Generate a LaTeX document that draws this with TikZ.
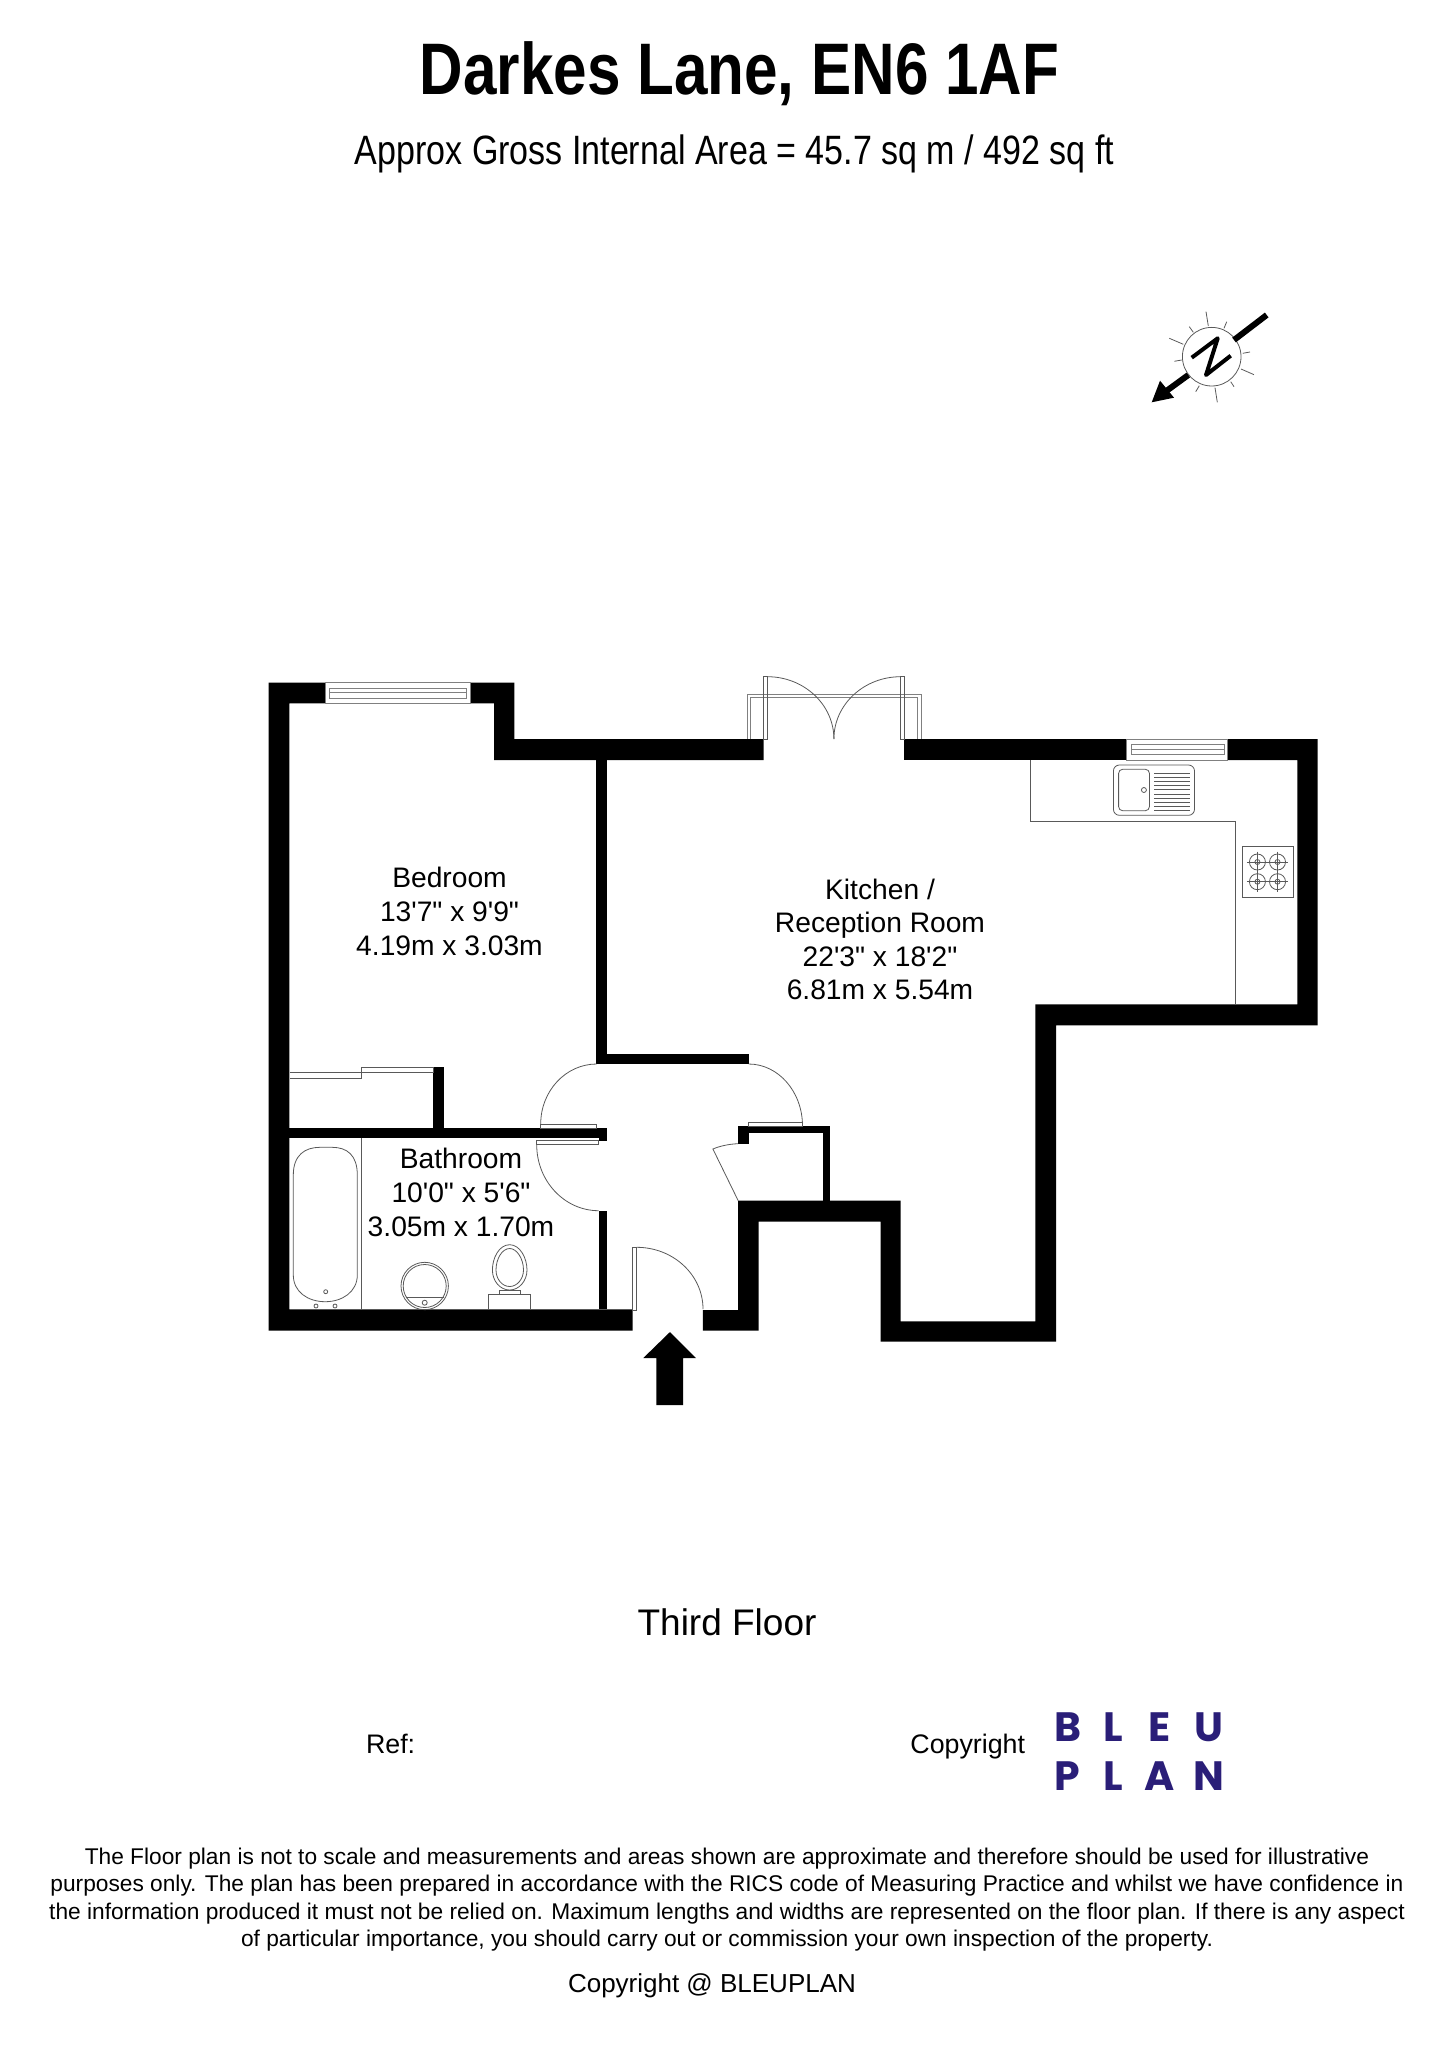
\documentclass[tikz,border=0pt]{standalone}
\usepackage{fontspec}
\setmainfont{Liberation Sans}
\newfontfamily\titlefont[FakeStretch=0.825]{Liberation Sans}
\newfontfamily\subtitlefont[FakeStretch=0.83]{Liberation Sans}
\newfontfamily\roomfont{Liberation Sans}
\newfontfamily\logofont{Poppins}
\usetikzlibrary{positioning}
\definecolor{bleunavy}{HTML}{2A1E78}
\tikzstyle{wall}=[
	fill=black,
	draw=none
]
\tikzstyle{fitting}=[
	draw=black!65,
	line width=0.4pt
]
\tikzstyle{glazing}=[
	draw=black!50,
	line width=0.4pt
]
\tikzstyle{roomlabel}=[
	align=center,
	inner sep=0pt,
	font=\roomfont\fontsize{14.1}{16.8}\selectfont
]
\tikzstyle{footer}=[
	inner sep=0pt,
	font=\fontsize{13.4}{16}\selectfont
]
\tikzstyle{logoletter}=[
	inner sep=0pt,
	text=bleunavy,
	font=\logofont\bfseries\fontsize{20.5}{20}\selectfont
]

\begin{document}
\begin{tikzpicture}[x=0.5pt,y=-0.5pt]
\useasboundingbox (0,0) rectangle (1448,2048);
\node (Title) [inner sep=0pt, font=\titlefont\bfseries\fontsize{36.5}{40}\selectfont] at (739.5,74) {Darkes Lane, EN6 1AF};
\node (Subtitle) [inner sep=0pt, below=14pt of Title, xshift=-2.5pt, font=\subtitlefont\fontsize{20.5}{24}\selectfont] {Approx Gross Internal Area = 45.7 sq m / 492 sq ft};

\fill [wall] (325.4,682.7) -- (268.6,682.7) -- (268.6,1330.7) -- (632.7,1330.7) -- (632.7,1309.3) -- (289.3,1309.3) -- (289.3,703.3) -- (325.4,703.3) -- cycle;
\fill [wall] (470.7,682.7) -- (514.3,682.7) -- (514.3,739) -- (763.6,739) -- (763.6,760) -- (494,760) -- (494,703.3) -- (470.7,703.3) -- cycle;
\fill [wall] (596.4,760) rectangle (607,1064);
\fill [wall] (596.4,1053.5) rectangle (748.6,1064);
\fill [wall] (904.3,739) rectangle (1126.5,760);
\fill [wall] (1227,739) -- (1317.5,739) -- (1317.5,1025.3) -- (1056,1025.3) -- (1056,1341.7) -- (880.7,1341.7) -- (880.7,1221.7) -- (758.6,1221.7) -- (758.6,1330.7) -- (702.9,1330.7) -- (702.9,1310) -- (738.2,1310) -- (738.2,1200.7) -- (900.7,1200.7) -- (900.7,1321.3) -- (1035.4,1321.3) -- (1035.4,1004.3) -- (1297.3,1004.3) -- (1297.3,760) -- (1227,760) -- cycle;
\fill [wall] (289.3,1128) rectangle (607,1138);
\fill [wall] (598.7,1128) rectangle (607,1140.7);
\fill [wall] (598.7,1210.7) rectangle (607,1309.3);
\fill [wall] (433.3,1067.3) rectangle (444,1128);
\fill [wall] (738.2,1126) rectangle (829.6,1133.3);
\fill [wall] (738.2,1126) rectangle (748.6,1143.7);
\fill [wall] (822.9,1126) rectangle (829.6,1200.7);

\draw [glazing] (325.4,682.7) rectangle (470.7,703.3);
\draw [glazing] (329.6,688.3) rectangle (466.4,698);
\draw [glazing] (329.6,692.7) -- (466.4,692.7);
\draw [glazing] (1126.5,739) rectangle (1227,760);
\draw [glazing] (1131.2,744) rectangle (1224,754);
\draw [glazing] (1131.2,749) -- (1224,749);

\draw [glazing] (747.7,739) -- (747.7,694) -- (920.9,694) -- (920.9,739);
\draw [glazing] (750.8,739) -- (750.8,697.3) -- (917.7,697.3) -- (917.7,739);
\draw [fitting] (763.5,739) -- (767.4,739) -- (767.4,676.7) -- (763.5,676.7) -- cycle;
\draw [fitting] (900.7,739) -- (904.3,739) -- (904.3,676.7) -- (900.7,676.7) -- cycle;
\draw [fitting] (767.4,676.7) .. controls (804,676.7) and (833.9,704.6) .. (833.9,739);
\draw [fitting] (900.7,676.7) .. controls (863.8,676.7) and (833.9,704.6) .. (833.9,739);

\draw [fitting] (289.7,1072.3) -- (361.3,1072.3) -- (361.3,1067.7) -- (433.3,1067.7) -- (433.3,1072.3) -- (361.3,1072.3) -- (361.3,1078) -- (289.7,1078);
\draw [fitting] (540.7,1124) rectangle (596.7,1128);
\draw [fitting] (596.7,1064) .. controls (565.8,1064) and (540.7,1090.9) .. (540.7,1124);
\draw [fitting] (536.7,1140.3) rectangle (598.7,1144.7);
\draw [fitting] (536.7,1144.7) .. controls (536.7,1181.1) and (564.5,1210.7) .. (598.7,1210.7);
\draw [fitting] (748.2,1122.3) rectangle (802.5,1126);
\draw [fitting] (748.6,1064) .. controls (778.4,1064) and (802.5,1091.8) .. (802.5,1126);
\draw [fitting] (738.2,1143.7) .. controls (729,1144) and (720,1146) .. (712.9,1149) -- (738.2,1200.7);
\draw [fitting] (632.7,1247.3) rectangle (636.7,1310.7);
\draw [fitting] (636.7,1247.3) .. controls (673.3,1247.3) and (703,1275) .. (703,1309);

\draw [fitting] (1030.4,760) -- (1030.4,821.3) -- (1235.2,821.3) -- (1235.2,1004.3);
\draw [fitting, rounded corners=3pt] (1113.4,765) rectangle (1194.5,815.3);
\draw [fitting, rounded corners=2pt] (1118.6,769.3) rectangle (1149.4,810.7);
\draw [fitting] (1143.9,790) circle [radius=2.5];
\foreach \rowy in {773,777.2,781.4,785.6,789.8,794,798.2,802.4,806.6,810}
	\draw [fitting] (1154,\rowy) -- (1189.7,\rowy);
\draw [fitting] (1242.3,846.3) rectangle (1293.3,897.3);
\foreach \ringx in {1257.4,1277.5}
	\foreach \ringy in {862,881.7} {
		\draw [fitting] (\ringx,\ringy) circle [radius=8];
		\draw [fitting] (\ringx,\ringy) circle [radius=2.5];
		\draw [fitting] (\ringx-10.5,\ringy) -- (\ringx+10.5,\ringy);
		\draw [fitting] (\ringx,\ringy-10.5) -- (\ringx,\ringy+10.5);
	}

\draw [fitting] (361.7,1138) -- (361.7,1309.3);
\draw [fitting] (293.3,1175) .. controls (293.3,1155) and (305,1147.3) .. (320,1147.3) -- (332,1147.3) .. controls (347,1147.3) and (357.3,1155) .. (357.3,1175) -- (357.3,1275) .. controls (357.3,1292) and (342,1301.7) .. (325.3,1301.7) .. controls (308,1301.7) and (293.3,1292) .. (293.3,1275) -- cycle;
\draw [fitting] (325.7,1291.7) circle [radius=2];
\draw [fitting] (316,1306) circle [radius=2];
\draw [fitting] (335,1306) circle [radius=2];
\draw [fitting] (424.7,1286) circle [radius=23.7];
\draw [fitting] (424.7,1286) circle [radius=21.5];
\draw [fitting] (405.5,1297.3) -- (443.9,1297.3);
\draw [fitting] (424.7,1302.7) circle [radius=2.5];
\draw [fitting] (488.7,1309.3) -- (488.7,1294.7) -- (530.3,1294.7) -- (530.3,1309.3);
\draw [fitting] (499.3,1294.7) -- (499.3,1290) -- (520,1290) -- (520,1294.7);
\draw [fitting] (509.7,1244.7) .. controls (520,1244.7) and (527,1258) .. (527,1270) .. controls (527,1281) and (519,1290) .. (509.7,1290) .. controls (500,1290) and (492.4,1281) .. (492.4,1270) .. controls (492.4,1258) and (499,1244.7) .. (509.7,1244.7) -- cycle;
\draw [fitting] (509.7,1248.5) .. controls (517,1248.5) and (523.5,1259) .. (523.5,1270) .. controls (523.5,1279) and (517,1286.5) .. (509.7,1286.5) .. controls (502,1286.5) and (496,1279) .. (496,1270) .. controls (496,1259) and (502,1248.5) .. (509.7,1248.5) -- cycle;

\fill [wall] (670,1332) -- (696,1358) -- (683,1358) -- (683,1405) -- (656.3,1405) -- (656.3,1358) -- (643.3,1358) -- cycle;

\node (Bedroom) [roomlabel] at (449.5,911.5) {Bedroom\\13'7" x 9'9"\\4.19m x 3.03m};
\node (Kitchen) [roomlabel] at (880,939.5) {Kitchen /\\Reception Room\\22'3" x 18'2"\\6.81m x 5.54m};
\node (Bathroom) [roomlabel] at (461,1192.5) {Bathroom\\10'0" x 5'6"\\3.05m x 1.70m};

\draw [fitting] (1211.7,356.7) circle [radius=29.3];
\draw [line width=3pt] (1266.7,315) -- (1234,340);
\draw [line width=3pt] (1188.3,375) -- (1165,392);
\fill [wall] (1151.7,402.3) -- (1160,380.7) -- (1174,397.7) -- cycle;
\draw [line width=2pt, line join=round] (1191.7,357.7) -- (1217.7,338.3) -- (1206,375) -- (1230.7,355.7);
\foreach \rayax/\rayay/\raybx/\rayby in {1206/311.7/1208.3/326,1189.3/326.7/1193.3/332.3,1169.3/338.3/1183.3/344.3,1174.3/361.3/1181.7/360,1195.7/391.7/1199.3/385.7,1217.3/402.3/1215/387.7,1234/386.7/1230.7/381.7,1254/374.7/1241/369,1250/352/1242.7/353.3,1226.7/321.7/1224/328.3}
	\draw [fitting] (\rayax,\rayay) -- (\raybx,\rayby);

\node (ThirdFloor) [inner sep=0pt, font=\fontsize{18.5}{22}\selectfont] at (727,1622) {Third Floor};
\node (Ref) [footer, anchor=base west] at (365.6,1753) {Ref:};
\node (Copyright) [footer, anchor=base west] at (910,1753) {Copyright};
\foreach \letter/\lx/\ly in {B/1067.5/1727,L/1113.5/1727,E/1159.5/1727,U/1209/1727,P/1067/1776,L/1113.5/1776,A/1159.5/1776,N/1209/1776}
	\node (logo\letter\ly) [logoletter] at (\lx,\ly) {\letter};
\node (Disclaimer) [inner sep=0pt, align=center, font=\fontsize{11.36}{13.7}\selectfont] at (727,1899.6) {The Floor plan is not to scale and measurements and areas shown are approximate and therefore should be used for illustrative\\purposes only. The plan has been prepared in accordance with the RICS code of Measuring Practice and whilst we have confidence in\\the information produced it must not be relied on. Maximum lengths and widths are represented on the floor plan. If there is any aspect\\of particular importance, you should carry out or commission your own inspection of the property.};
\node (CopyrightLine) [footer, below=10.8pt of Disclaimer, xshift=-7.5pt, font=\fontsize{13}{16}\selectfont] {Copyright @ BLEUPLAN};
\end{tikzpicture}
\end{document}
